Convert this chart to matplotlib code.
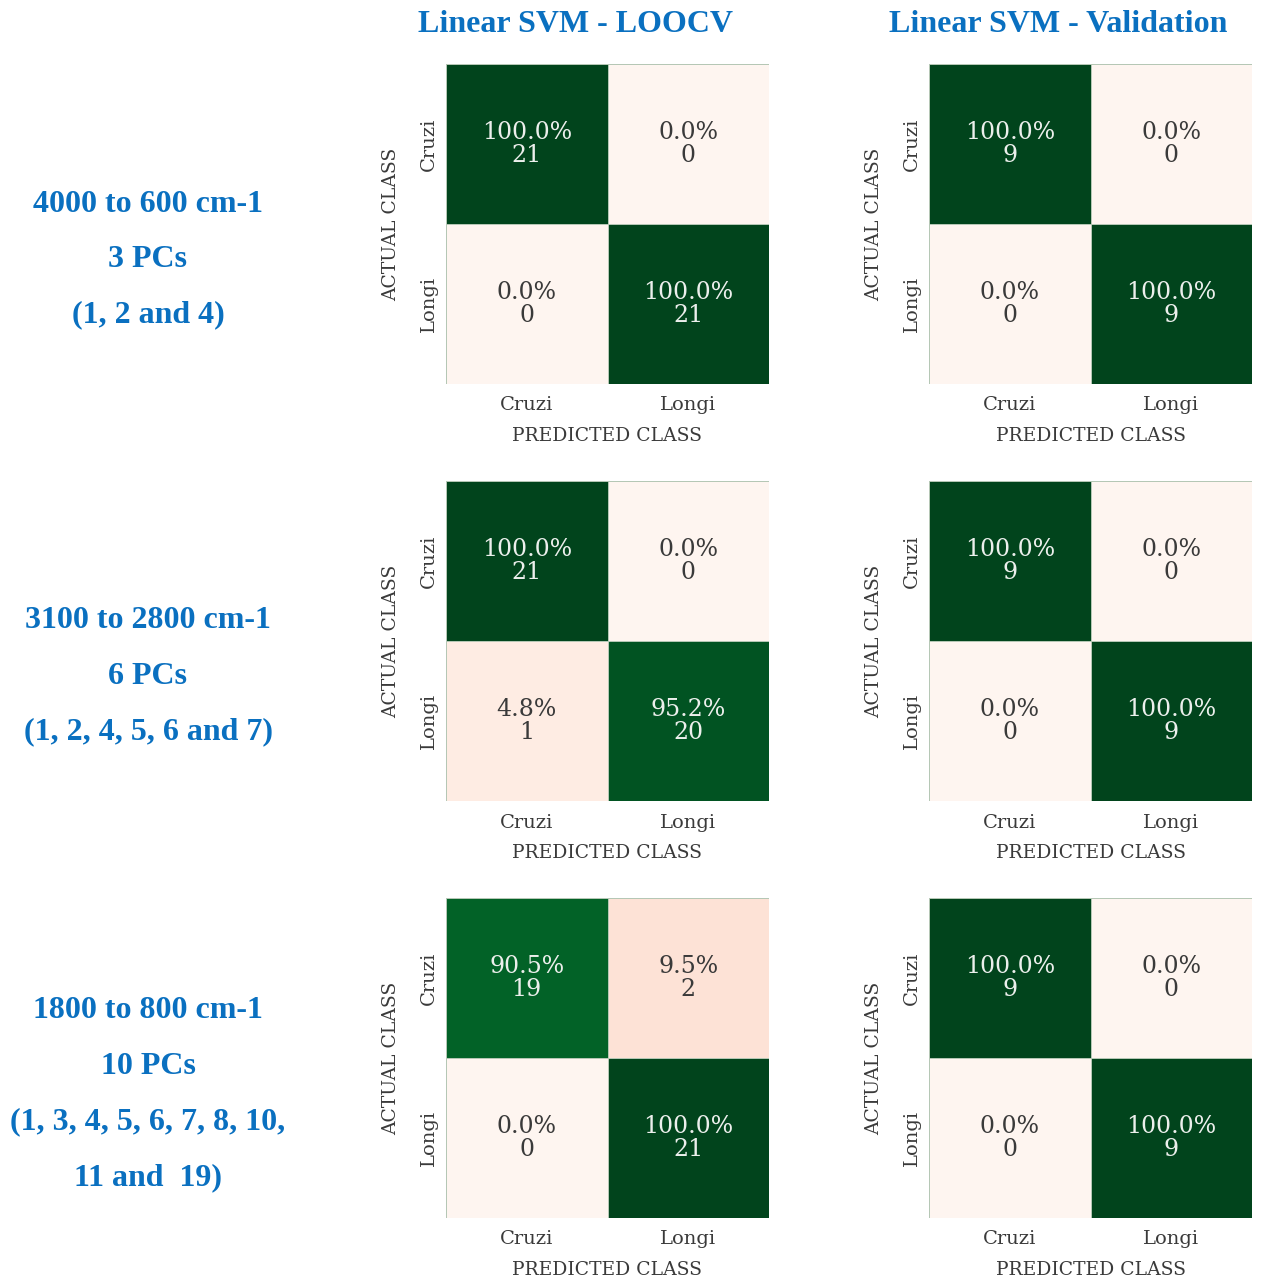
"""Confusion matrices for linear SVM on three spectral ranges (LOOCV vs validation)."""

import matplotlib

matplotlib.use("Agg")

import matplotlib.pyplot as plt
import numpy as np
from matplotlib.colors import LinearSegmentedColormap

W, H = 1261, 1283
DPI = 100

CLASSES = ["Cruzi", "Longi"]
COLUMN_TITLES = ["Linear SVM - LOOCV", "Linear SVM - Validation"]
ROW_LABELS = [
    ["4000 to 600 cm-1", "3 PCs", "(1, 2 and 4)"],
    ["3100 to 2800 cm-1", "6 PCs", "(1, 2, 4, 5, 6 and 7)"],
    ["1800 to 800 cm-1", "10 PCs", "(1, 3, 4, 5, 6, 7, 8, 10,", "11 and  19)"],
]

# counts: rows = actual class, columns = predicted class
LOOCV_COUNTS = [
    [[21, 0], [0, 21]],
    [[21, 0], [1, 20]],
    [[19, 2], [0, 21]],
]
VALIDATION_COUNTS = [
    [[9, 0], [0, 9]],
    [[9, 0], [0, 9]],
    [[9, 0], [0, 9]],
]

BLUE = "#0a70c0"
TEXT_GREY = "#3a3a3a"
SERIF = ["DejaVu Serif"]
TITLE_FONT = ["Liberation Serif"]

cmap = LinearSegmentedColormap.from_list(
    "pink_green",
    [(0.0, "#fef5f0"), (0.1, "#fde1d4"), (0.5, "#7fbf8a"), (0.9, "#026428"), (1.0, "#01441c")],
)

# pixel boxes of the matrices (left, top) – each matrix is 323 x 320 px
COL_LEFT = [446, 929]
ROW_TOP = [64, 481, 898]
MAT_W, MAT_H = 323, 320


def add_axes_px(fig, left, top, width, height):
    return fig.add_axes([left / W, 1 - (top + height) / H, width / W, height / H])


def draw_matrix(ax, counts):
    counts = np.asarray(counts, dtype=float)
    pct = counts / counts.sum(axis=1, keepdims=True) * 100.0
    ax.pcolormesh(
        pct / 100.0,
        cmap=cmap,
        vmin=0.0,
        vmax=1.0,
        edgecolors="#b5c7b5",
        linewidth=0.5,
    )
    ax.set_xlim(0, 2)
    ax.set_ylim(2, 0)
    for i in range(2):
        for j in range(2):
            color = "#ecefec" if pct[i, j] > 50 else TEXT_GREY
            ax.text(
                j + 0.5,
                i + 0.5,
                f"{pct[i, j]:.1f}%\n{int(counts[i, j])}",
                ha="center",
                va="center",
                fontsize=17,
                family=SERIF,
                color=color,
                linespacing=1.0,
            )
    ax.set_xticks([0.5, 1.5], CLASSES)
    ax.set_yticks([0.5, 1.5], CLASSES, rotation=90, va="center")
    ax.tick_params(axis="x", length=0, pad=9, labelsize=14, colors=TEXT_GREY)
    ax.tick_params(axis="y", length=0, pad=6, labelsize=14, colors=TEXT_GREY)
    for lab in ax.get_xticklabels() + ax.get_yticklabels():
        lab.set_family(SERIF)
    ax.set_xlabel("PREDICTED CLASS", fontsize=13.5, family=SERIF, color=TEXT_GREY, labelpad=9)
    ax.set_ylabel("ACTUAL CLASS", fontsize=13.5, family=SERIF, color=TEXT_GREY, labelpad=14)
    for spine in ax.spines.values():
        spine.set_visible(False)


def main():
    fig = plt.figure(figsize=(W / DPI, H / DPI), dpi=DPI)
    fig.patch.set_facecolor("white")

    for r, top in enumerate(ROW_TOP):
        for c, left in enumerate(COL_LEFT):
            ax = add_axes_px(fig, left, top, MAT_W, MAT_H)
            counts = LOOCV_COUNTS[r] if c == 0 else VALIDATION_COUNTS[r]
            draw_matrix(ax, counts)

    title_x = [575, 1058]
    for x, title in zip(title_x, COLUMN_TITLES):
        fig.text(x / W, 1 - 24 / H, title, ha="center", va="center",
                 fontsize=23, fontweight="bold", family=TITLE_FONT, color=BLUE)

    row_first_line = [204, 621, 1011]
    for y0, lines in zip(row_first_line, ROW_LABELS):
        for k, line in enumerate(lines):
            fig.text(148 / W, 1 - (y0 + 55.5 * k) / H, line, ha="center", va="center",
                     fontsize=23, fontweight="bold", family=TITLE_FONT, color=BLUE)

    fig.savefig("out.png", dpi=DPI, facecolor="white")
    plt.close(fig)


if __name__ == "__main__":
    main()
